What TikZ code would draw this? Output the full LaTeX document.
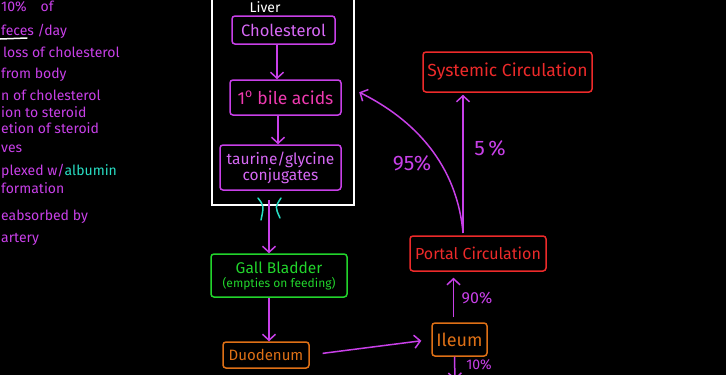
\documentclass[tikz,border=0pt]{standalone}
\usepackage{fontspec}
\setmainfont{Fira Sans}
\usetikzlibrary{arrows.meta}
\definecolor{mag}{RGB}{200,64,232}
\definecolor{lilac}{RGB}{214,104,244}
\definecolor{rose}{RGB}{238,58,176}
\definecolor{gallgreen}{RGB}{34,212,44}
\definecolor{duodorange}{RGB}{222,112,22}
\definecolor{bloodred}{RGB}{236,42,42}
\definecolor{ductcyan}{RGB}{40,222,196}
\begin{document}
\begin{tikzpicture}[x=1pt,y=-1pt,
  box/.style={draw,line width=1.5pt,rounded corners=3pt,inner sep=0pt,align=center,
    font=\fontsize{15.5}{16}\selectfont},
  flow/.style={draw=mag,line width=1.5pt,-{Straight Barb[length=6pt,width=13pt]}},
  pct/.style={text=mag,inner sep=0pt},
  note/.style={anchor=base west,text=mag,inner sep=0pt,font=\fontsize{14}{14}\selectfont}]
  \fill[black] (0,0) rectangle (726,375);
  \useasboundingbox (0,0) rectangle (726,375);
  % left notes, cut off by the page edge
  \node[note] (n1) at (1,11) {10\%\quad of};
  \node[note] (n2) at (1,35) {feces /day};
  \draw[white,line width=1.5pt,line cap=round] (0,39) -- (27,38);
  \node[note] (n3) at (3,57) {loss of cholesterol};
  \node[note] (n4) at (1,78) {from body};
  \node[note] (n5) at (1,100) {n of cholesterol};
  \node[note] (n6) at (1,117) {ion to steroid};
  \node[note] (n7) at (1,133) {etion of steroid};
  \node[note] (n8) at (1,152) {ves};
  \node[note] (n9) at (1,175) {plexed w/\textcolor{ductcyan}{albumin}};
  \node[note] (n10) at (1,193) {formation};
  \node[note] (n11) at (1,220) {eabsorbed by};
  \node[note] (n12) at (1,242) {artery};
  % liver
  \node[draw=white,line width=1.5pt,minimum width=142,minimum height=230,inner sep=0pt]
    (liver) at (283,90) {};
  \node[anchor=base,text=white,font=\fontsize{14}{14}\selectfont] (livertxt) at (265,12) {Liver};
  \node[box,draw=mag,text=lilac,minimum width=103,minimum height=28,font=\fontsize{16.5}{17}\selectfont]
    (chol) at (283.5,30) {Cholesterol};
  \node[box,draw=mag,text=rose,minimum width=111,minimum height=35,font=\fontsize{17.5}{18}\selectfont]
    (bile) at (285.5,97.5) {1\textsuperscript{o} bile acids};
  \node[box,draw=mag,text=lilac,minimum width=121,minimum height=45] (conj) at (280.5,167.5) {taurine/glycine\\conjugates};
  \draw[flow] (chol.south -| 277,0) -- (bile.north -| 277,0);
  \draw[flow] (bile.south -| 278,0) -- (conj.north -| 278,0);
  % bile duct
  \coordinate (duct) at (269,200);
  \draw[ductcyan,line width=1.5pt,line cap=round] (258,198) .. controls (264,206) .. (261,220);
  \draw[ductcyan,line width=1.5pt,line cap=round] (281,198) .. controls (275,207) .. (280,218);
  % gall bladder and gut
  \node[box,draw=gallgreen,text=gallgreen,minimum width=136,minimum height=43] (gall) at (279,275.5)
    {Gall Bladder\\[-2pt]{\fontsize{12}{12}\selectfont(empties on feeding)}};
  \node[box,draw=duodorange,text=duodorange,minimum width=86,minimum height=26,font=\fontsize{15}{15}\selectfont]
    (duod) at (266,355) {Duodenum};
  \node[box,draw=duodorange,text=duodorange,minimum width=55,minimum height=33,font=\fontsize{18}{18}\selectfont]
    (ileum) at (459.5,339.5) {Ileum};
  \draw[flow] (duct) -- (duct |- gall.north);
  \draw[flow] (duct |- gall.south) -- (duct |- duod.north);
  \draw[flow,shorten <=13pt,shorten >=10pt] (duod.east) -- (ileum.west);
  % circulation
  \node[box,draw=bloodred,text=bloodred,minimum width=136,minimum height=35,font=\fontsize{16}{16}\selectfont]
    (portal) at (478,253.5) {Portal Circulation};
  \node[box,draw=bloodred,text=bloodred,minimum width=169,minimum height=40,font=\fontsize{17.5}{18}\selectfont]
    (systemic) at (507.5,72) {Systemic Circulation};
  \coordinate (portaltop) at (463,233);
  \coordinate (gutout) at (455,380);
  \draw[flow,shorten <=5pt,shorten >=6pt] ([xshift=-6pt]ileum.north) -- ([xshift=-6pt]ileum.north |- portal.south);
  \draw[flow] ([xshift=-5pt]ileum.south) -- (gutout);
  \draw[flow,shorten >=2pt] (portaltop) -- (portaltop |- systemic.south);
  \draw[flow,shorten >=5pt] (portaltop) .. controls (457,165) and (415,120) .. (liver.east);
  \node[pct,font=\fontsize{21}{21}\selectfont] (p95) at (412,163) {95\%};
  \node[pct,font=\fontsize{21}{21}\selectfont] (p5) at (490,148) {5\,\%};
  \node[pct,font=\fontsize{16}{16}\selectfont] (p90) at (477,298) {90\%};
  \node[pct,font=\fontsize{14}{14}\selectfont] (p10) at (479,365) {10\%};
\end{tikzpicture}
\end{document}
